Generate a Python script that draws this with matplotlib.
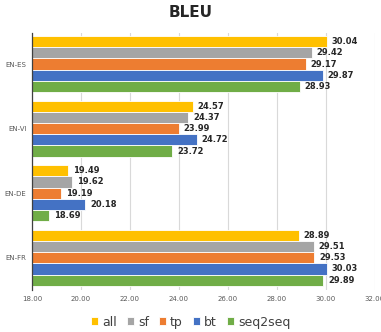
import numpy as np
import matplotlib.pyplot as plt

# data
langs = ["EN-FR", "EN-DE", "EN-VI", "EN-ES"]
series = ["all", "sf", "tp", "bt", "seq2seq"]
colors = ["#FFC000", "#A5A5A5", "#ED7D31", "#4472C4", "#70AD47"]
all_v = [28.89, 19.49, 24.57, 30.04]
sf_v = [29.51, 19.62, 24.37, 29.42]
tp_v = [29.53, 19.19, 23.99, 29.17]
bt_v = [30.03, 20.18, 24.72, 29.87]
s2s_v = [29.89, 18.69, 23.72, 28.93]
values = [all_v, sf_v, tp_v, bt_v, s2s_v]

fig = plt.figure(figsize=(3.81, 3.32), dpi=100)
ax = fig.add_axes([0.084, 0.1265, 0.9, 0.774])

y = np.arange(len(langs))
h = 0.174
for i, (name, vals, c) in enumerate(zip(series, values, colors)):
   off = (2 - i) * h
   bars = ax.barh(y + off, np.array(vals) - 18, left=18, height=h, color=c,
                  edgecolor="white", linewidth=0.6, label=name, zorder=2)
   for yy, v in zip(y + off, vals):
      ax.text(v + 0.2, yy, "%.2f" % v, va="center", ha="left", fontsize=6,
              fontweight="bold", color="#262626")

ax.set_xlim(18, 32)
ax.set_ylim(-0.5, 3.48)
ax.set_xticks(np.arange(18, 33, 2))
ax.set_xticklabels(["%.2f" % t for t in np.arange(18, 33, 2)], fontsize=5, color="#595959")
ax.set_yticks(y)
ax.set_yticklabels(langs, fontsize=5, color="#595959")
ax.tick_params(length=0, pad=4)
ax.grid(axis="x", color="#D9D9D9", linewidth=0.8, zorder=0)
for s in ["top", "right", "bottom"]:
   ax.spines[s].set_visible(False)
ax.spines["left"].set_color("#404040")
ax.spines["left"].set_linewidth(0.9)

fig.text(0.5, 0.963, "BLEU", ha="center", va="center", fontsize=11, fontweight="bold", color="#262626")
fig.legend(loc="center", bbox_to_anchor=(0.5, 0.03), ncol=5, frameon=False, fontsize=9,
           handlelength=0.6, handleheight=0.6, handletextpad=0.3, columnspacing=0.8,
           labelcolor="#404040")

plt.savefig("out.png", dpi=100)
